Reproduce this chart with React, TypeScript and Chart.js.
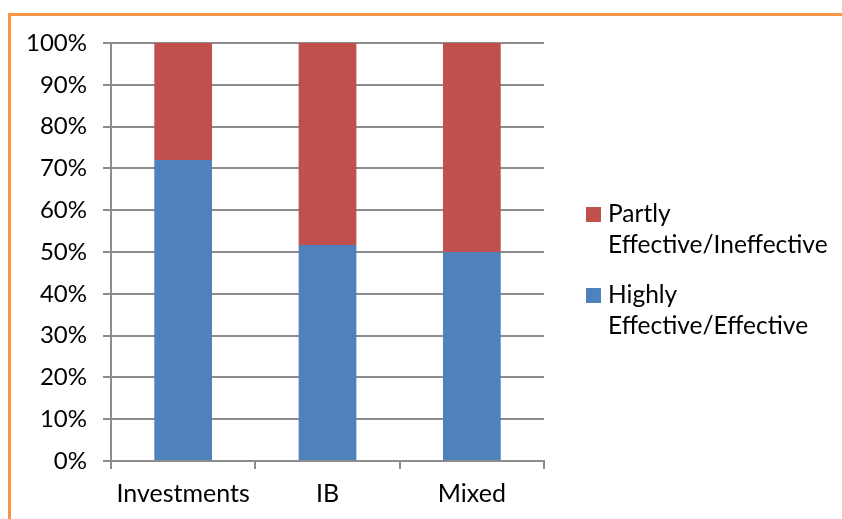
import React, { useEffect, useRef } from "react";
import { Chart, registerables } from "chart.js";

Chart.register(...registerables);

const categories = ["Investments", "IB", "Mixed"];
const highlyEffective = [72, 51.7, 50];
const partlyIneffective = [28, 48.3, 50];
const seriesNames = ["Highly Effective/Effective", "Partly Effective/Ineffective"];
const legendLines = [
  ["Partly", "Effective/Ineffective"],
  ["Highly", "Effective/Effective"],
];
const legendColors = ["#C0504D", "#4F81BD"];
const FONT = "Lato, 'Open Sans', sans-serif";

const legendPlugin = {
  id: "sideLegend",
  afterDraw(chart: any) {
    const ctx = chart.ctx as CanvasRenderingContext2D;
    const area = chart.chartArea;
    const x0 = area.right + 42;
    const firstY = 214;
    const lineGap = 31;
    const itemGap = 81;
    ctx.save();
    ctx.font = `24.5px ${FONT}`;
    ctx.textBaseline = "middle";
    ctx.textAlign = "left";
    legendLines.forEach((lines, i) => {
      const y = firstY + i * itemGap;
      ctx.fillStyle = legendColors[i];
      ctx.fillRect(x0, y - 7, 15, 15);
      ctx.fillStyle = "#000";
      lines.forEach((t, j) => ctx.fillText(t, x0 + 22, y + j * lineGap));
    });
    ctx.restore();
  },
};

export default function App() {
  const ref = useRef<HTMLCanvasElement>(null);

  useEffect(() => {
    if (!ref.current) return;
    const chart = new Chart(ref.current, {
      type: "bar",
      data: {
        labels: categories,
        datasets: [
          {
            label: seriesNames[0],
            data: highlyEffective,
            backgroundColor: "#4F81BD",
            barPercentage: 0.4,
            categoryPercentage: 1,
          },
          {
            label: seriesNames[1],
            data: partlyIneffective,
            backgroundColor: "#C0504D",
            barPercentage: 0.4,
            categoryPercentage: 1,
          },
        ],
      },
      options: {
        responsive: false,
        animation: false,
        layout: { padding: { left: 0, top: 43, right: 298, bottom: 0 } },
        plugins: {
          legend: { display: false },
          tooltip: { enabled: false },
        },
        scales: {
          x: {
            stacked: true,
            afterFit: (s: any) => {
              s.height = 58;
            },
            grid: {
              offset: true,
              drawOnChartArea: false,
              drawTicks: true,
              tickLength: 8,
              color: "#8c8c8c",
              lineWidth: 2,
            },
            border: { color: "#8c8c8c", width: 2 },
            ticks: {
              color: "#000",
              font: { family: FONT, size: 25 },
              padding: 10,
              maxRotation: 0,
            },
          },
          y: {
            stacked: true,
            min: 0,
            max: 100,
            afterFit: (s: any) => {
              s.width = 111;
            },
            grid: {
              color: "#8c8c8c",
              lineWidth: 2,
              tickLength: 8,
            },
            border: { color: "#8c8c8c", width: 2 },
            ticks: {
              stepSize: 10,
              color: "#000",
              font: { family: FONT, size: 24 },
              padding: 16,
              callback: (v: any) => `${v}%`,
            },
          },
        },
      },
      plugins: [legendPlugin],
    });
    return () => chart.destroy();
  }, []);

  return (
    <div style={{ position: "absolute", left: 0, top: 0, width: 842, height: 519, overflow: "hidden", background: "#fff" }}>
      <canvas ref={ref} width={842} height={519} style={{ position: "absolute", left: 0, top: 0 }} />
      <div
        style={{
          position: "absolute",
          left: 8,
          top: 13,
          width: 900,
          height: 600,
          borderLeft: "3px solid #F79646",
          borderTop: "3px solid #F79646",
          pointerEvents: "none",
        }}
      />
    </div>
  );
}
